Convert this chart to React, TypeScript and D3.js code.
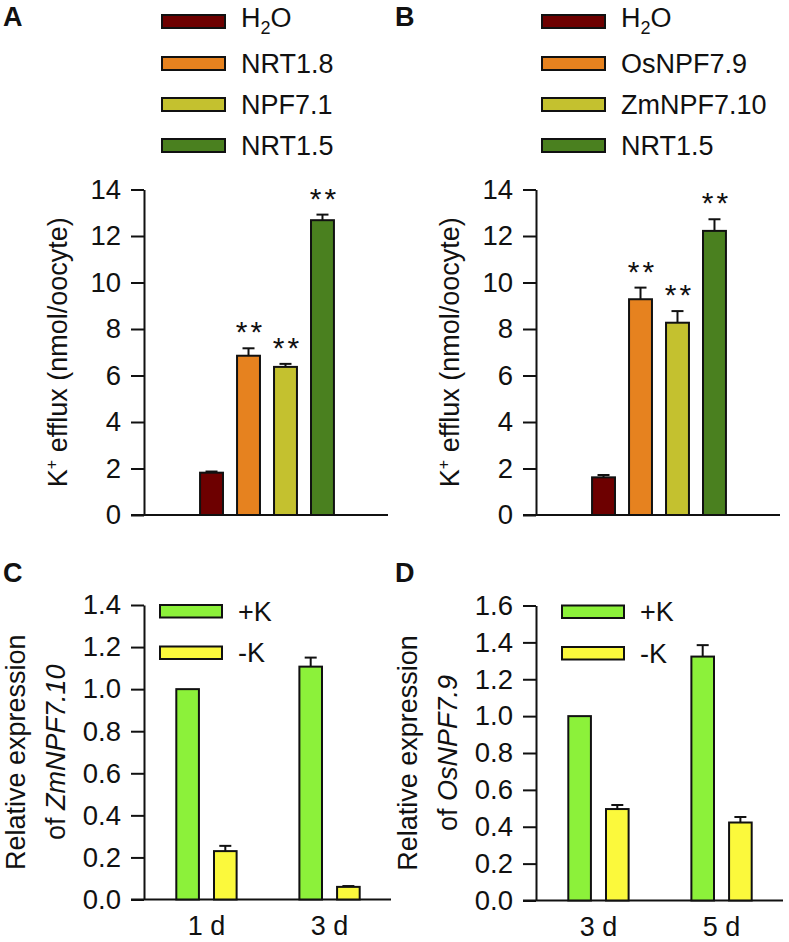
import { useEffect, useRef } from "react";
import * as d3 from "d3";

const FONT = "'Liberation Sans', Arial, Helvetica, sans-serif";

// panel A / B: K+ efflux in oocytes
const effluxTicks = [0, 2, 4, 6, 8, 10, 12, 14];
const geneColors = ["#6d0000", "#e6821f", "#c4c12f", "#4a801f"];

const panelAGenes = ["H2O", "NRT1.8", "NPF7.1", "NRT1.5"];
const panelAMeans = [1.82, 6.85, 6.37, 12.68];
const panelAErrors = [0.05, 0.32, 0.13, 0.24];
const panelASig = ["", "**", "**", "**"];

const panelBGenes = ["H2O", "OsNPF7.9", "ZmNPF7.10", "NRT1.5"];
const panelBMeans = [1.62, 9.28, 8.27, 12.22];
const panelBErrors = [0.1, 0.5, 0.5, 0.5];
const panelBSig = ["", "**", "**", "**"];

// panel C / D: relative expression under +K / -K
const treatments = ["+K", "-K"];
const treatmentColors = ["#8cf13a", "#fbf93c"];

const panelCDays = ["1 d", "3 d"];
const panelCPlusK = [1.0, 1.107];
const panelCPlusKErr = [0, 0.043];
const panelCMinusK = [0.23, 0.06];
const panelCMinusKErr = [0.025, 0.004];
const panelCTicks = [0, 0.2, 0.4, 0.6, 0.8, 1.0, 1.2, 1.4];

const panelDDays = ["3 d", "5 d"];
const panelDPlusK = [1.0, 1.323];
const panelDPlusKErr = [0, 0.062];
const panelDMinusK = [0.496, 0.423];
const panelDMinusKErr = [0.022, 0.03];
const panelDTicks = [0, 0.2, 0.4, 0.6, 0.8, 1.0, 1.2, 1.4, 1.6];

const legendRows = [0, 46, 87, 128];

const YAxis = ({ x, scale, ticks, format }: any) => {
  const ref = useRef<SVGGElement | null>(null);
  useEffect(() => {
    if (!ref.current) return;
    const g = d3.select(ref.current);
    g.call(
      d3
        .axisLeft(scale)
        .tickValues(ticks)
        .tickFormat(format)
        .tickSize(13)
        .tickSizeOuter(0)
        .tickPadding(10) as any
    );
    g.select(".domain").attr("stroke", "#111").attr("stroke-width", 2);
    g.selectAll(".tick line").attr("stroke", "#111").attr("stroke-width", 2);
    g.selectAll(".tick text")
      .attr("font-size", 27.5)
      .attr("font-family", FONT)
      .attr("fill", "#111");
  }, [scale, ticks, format]);
  return <g ref={ref} transform={`translate(${x},0)`} />;
};

const GeneLabel = ({ name }: { name: string }) =>
  name === "H2O" ? (
    <>
      H
      <tspan dy={7} fontSize={18}>
        2
      </tspan>
      <tspan dy={-7}>O</tspan>
    </>
  ) : (
    <>{name}</>
  );

const EffluxPanel = ({ letter, left, genes, means, errors, sig, legendX }: any) => {
  const x0 = left + 144;
  const y = d3.scaleLinear().domain([0, 14]).range([515, 189.5]);
  const x = d3
    .scaleBand()
    .domain(genes)
    .range([x0 + 42, x0 + 204])
    .padding(0.38);
  const data = genes.map((g: string, i: number) => ({
    g,
    mean: means[i],
    err: errors[i],
    sig: sig[i],
    color: geneColors[i],
  }));
  const midY = (y(0) + y(14)) / 2;
  return (
    <g>
      <text x={left + 3} y={26} fontSize={27} fontWeight="bold">
        {letter}
      </text>
      {data.map((d: any, i: number) => {
        const top = 11 + legendRows[i] + (d.g === "H2O" ? 4 : 0);
        return (
          <g key={d.g}>
            <rect
              x={x0 + legendX}
              y={top}
              width={63}
              height={13}
              fill={d.color}
              stroke="#111"
              strokeWidth={2}
            />
            <text
              x={x0 + legendX + 79}
              y={top + 6.5 - (d.g === "H2O" ? 4 : 0)}
              dy="0.35em"
              fontSize={27}
            >
              <GeneLabel name={d.g} />
            </text>
          </g>
        );
      })}
      <text
        transform={`translate(${x0 - 77},${midY}) rotate(-90)`}
        textAnchor="middle"
        fontSize={27}
      >
        K
        <tspan dy={-10} fontSize={16}>
          +
        </tspan>
        <tspan dy={10}> efflux (nmol/oocyte)</tspan>
      </text>
      <YAxis x={x0} scale={y} ticks={effluxTicks} format={d3.format("d")} />
      <line x1={x0 - 13} x2={x0 + 244} y1={y(0)} y2={y(0)} stroke="#111" strokeWidth={2} />
      {data.map((d: any) => {
        const bx = x(d.g) as number;
        const cx = bx + x.bandwidth() / 2;
        return (
          <g key={d.g}>
            <line x1={cx} x2={cx} y1={y(d.mean)} y2={y(d.mean + d.err)} stroke="#111" strokeWidth={2} />
            <line x1={cx - 6} x2={cx + 6} y1={y(d.mean + d.err)} y2={y(d.mean + d.err)} stroke="#111" strokeWidth={2} />
            <rect
              x={bx}
              y={y(d.mean)}
              width={x.bandwidth()}
              height={y(0) - y(d.mean)}
              fill={d.color}
              stroke="#111"
              strokeWidth={2}
            />
            {d.sig && (
              <text
                x={cx + 2}
                y={y(d.mean + d.err) - 6}
                textAnchor="middle"
                fontSize={30}
                letterSpacing={3}
              >
                {d.sig}
              </text>
            )}
          </g>
        );
      })}
    </g>
  );
};

const ExpressionPanel = ({
  letter,
  left,
  days,
  plus,
  plusErr,
  minus,
  minusErr,
  ticks,
  yMax,
  yRange,
  gene,
  legendX,
}: any) => {
  const x0 = left + 144;
  const y = d3.scaleLinear().domain([0, yMax]).range(yRange);
  const xGroup = d3
    .scaleBand()
    .domain(days)
    .range([x0 + 20, x0 + 228])
    .paddingInner(0.51)
    .paddingOuter(0.1);
  const xSub = d3
    .scaleBand()
    .domain(treatments)
    .range([0, xGroup.bandwidth()])
    .paddingInner(0.4);
  const midY = (y(0) + y(yMax)) / 2;
  const series = [
    { t: treatments[0], vals: plus, errs: plusErr, color: treatmentColors[0] },
    { t: treatments[1], vals: minus, errs: minusErr, color: treatmentColors[1] },
  ];
  return (
    <g>
      <text x={left + 3} y={582} fontSize={27} fontWeight="bold">
        {letter}
      </text>
      <text transform={`translate(${x0 - 119},${midY}) rotate(-90)`} textAnchor="middle" fontSize={27}>
        Relative expression
      </text>
      <text transform={`translate(${x0 - 79},${midY}) rotate(-90)`} textAnchor="middle" fontSize={27}>
        of <tspan fontStyle="italic">{gene}</tspan>
      </text>
      <YAxis x={x0} scale={y} ticks={ticks} format={d3.format(".1f")} />
      <line x1={x0 - 13} x2={x0 + 247} y1={y(0)} y2={y(0)} stroke="#111" strokeWidth={2} />
      {series.map((s, si) => (
        <g key={s.t}>
          <rect
            x={x0 + legendX}
            y={y(yMax) + si * 41.5}
            width={62}
            height={12.5}
            fill={s.color}
            stroke="#111"
            strokeWidth={2}
          />
          <text x={x0 + legendX + 78} y={y(yMax) + si * 41.5 + 6.25} dy="0.35em" fontSize={27}>
            {s.t}
          </text>
          {days.map((day: string, i: number) => {
            const bx = (xGroup(day) as number) + (xSub(s.t) as number);
            const cx = bx + xSub.bandwidth() / 2;
            const v = s.vals[i];
            const e = s.errs[i];
            return (
              <g key={day}>
                {e > 0 && (
                  <>
                    <line x1={cx} x2={cx} y1={y(v)} y2={y(v + e)} stroke="#111" strokeWidth={2} />
                    <line x1={cx - 6} x2={cx + 6} y1={y(v + e)} y2={y(v + e)} stroke="#111" strokeWidth={2} />
                  </>
                )}
                <rect
                  x={bx}
                  y={y(v)}
                  width={xSub.bandwidth()}
                  height={y(0) - y(v)}
                  fill={s.color}
                  stroke="#111"
                  strokeWidth={2}
                />
              </g>
            );
          })}
        </g>
      ))}
      {days.map((day: string) => (
        <text
          key={day}
          x={(xGroup(day) as number) + xGroup.bandwidth() / 2}
          y={y(0) + 35}
          textAnchor="middle"
          fontSize={27}
        >
          {day}
        </text>
      ))}
    </g>
  );
};

export default function App() {
  return (
    <svg
      width={789}
      height={942}
      style={{ position: "absolute", left: 0, top: 0, background: "#fff" }}
      fontFamily={FONT}
      fill="#111"
    >
      <EffluxPanel
        letter="A"
        left={0}
        genes={panelAGenes}
        means={panelAMeans}
        errors={panelAErrors}
        sig={panelASig}
        legendX={18}
      />
      <EffluxPanel
        letter="B"
        left={392}
        genes={panelBGenes}
        means={panelBMeans}
        errors={panelBErrors}
        sig={panelBSig}
        legendX={6}
      />
      <ExpressionPanel
        letter="C"
        left={0}
        days={panelCDays}
        plus={panelCPlusK}
        plusErr={panelCPlusKErr}
        minus={panelCMinusK}
        minusErr={panelCMinusKErr}
        ticks={panelCTicks}
        yMax={1.4}
        yRange={[899.5, 605]}
        gene="ZmNPF7.10"
        legendX={16}
      />
      <ExpressionPanel
        letter="D"
        left={392}
        days={panelDDays}
        plus={panelDPlusK}
        plusErr={panelDPlusKErr}
        minus={panelDMinusK}
        minusErr={panelDMinusKErr}
        ticks={panelDTicks}
        yMax={1.6}
        yRange={[900.5, 605.5]}
        gene="OsNPF7.9"
        legendX={26}
      />
    </svg>
  );
}
